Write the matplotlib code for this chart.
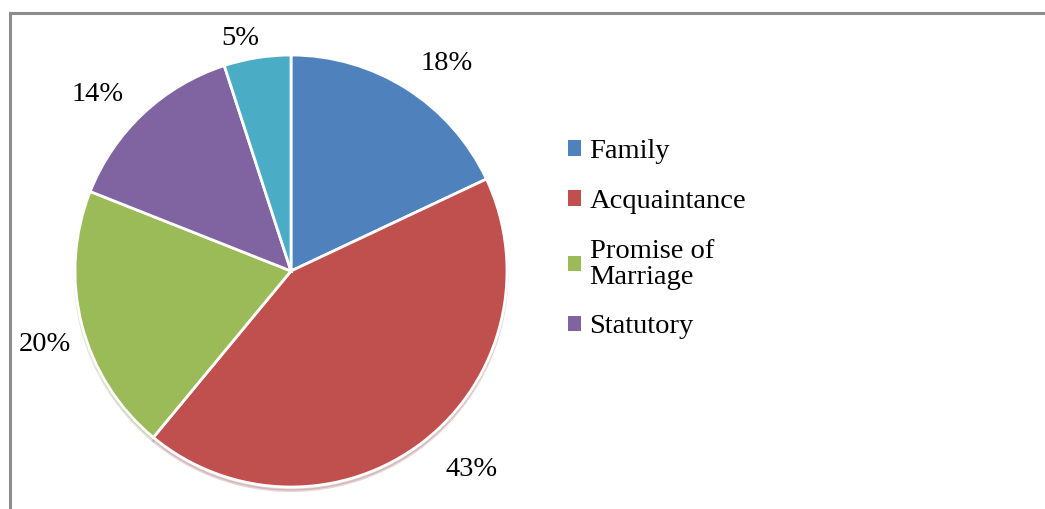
import numpy as np
import matplotlib.pyplot as plt
from matplotlib.patches import Patch
from matplotlib.lines import Line2D

categories = ['Family', 'Acquaintance', 'Promise of\nMarriage', 'Statutory', 'Other']
shares = [18, 43, 20, 14, 5]
colors = ['#4F81BD', '#C0504D', '#9BBB59', '#8064A2', '#4BACC6']

# outside label placement: radial distance and angular nudge (deg) per slice
label_dist = [1.2, 1.24, 1.19, 1.214, 1.10]
label_nudge = [-4.5, 4.5, 2.3, 4.4, 3.3]

plt.rcParams['font.family'] = ['Liberation Serif', 'DejaVu Serif']

fig = plt.figure(figsize=(10.45, 5.09), dpi=100)

# grey chart-area border (right and bottom edges run off the canvas)
fig.add_artist(Line2D([10 / 1045, 10 / 1045], [0, 1 - 13 / 509], transform=fig.transFigure,
                      color='#8c8c8c', lw=2.2))
fig.add_artist(Line2D([10 / 1045, 1], [1 - 13 / 509, 1 - 13 / 509], transform=fig.transFigure,
                      color='#8c8c8c', lw=2.2))

ax = fig.add_axes([75 / 1045, 22 / 509, 432 / 1045, 432 / 509])
wedges, texts, pcts = ax.pie(
    shares, colors=colors, startangle=90, counterclock=False,
    autopct='%d%%', pctdistance=1.2,
    wedgeprops=dict(edgecolor='white', linewidth=2),
    shadow=dict(ox=0.0, oy=-0.012, shade=0.3, alpha=0.2),
    textprops=dict(fontsize=20.5, color='black'),
)
for w, t, d, n in zip(wedges, pcts, label_dist, label_nudge):
    ang = np.deg2rad((w.theta1 + w.theta2) / 2 + n)
    t.set_position((d * np.cos(ang), d * np.sin(ang)))

ax.set_xlim(-1.0, 1.0)
ax.set_ylim(-1.0, 1.0)
ax.set_aspect('equal')

handles = [Patch(facecolor=c, edgecolor='none') for c in colors[:4]]
leg = fig.legend(handles, categories[:4], loc='upper left',
                 bbox_to_anchor=(554 / 1045, 1 - 125 / 509),
                 frameon=False, fontsize=20.5, handlelength=0.45, handleheight=0.45,
                 handletextpad=0.3, labelspacing=0.87, borderpad=0)
for t in leg.get_texts():
    t.set_linespacing(1.05)

fig.savefig('out.png', dpi=100)
